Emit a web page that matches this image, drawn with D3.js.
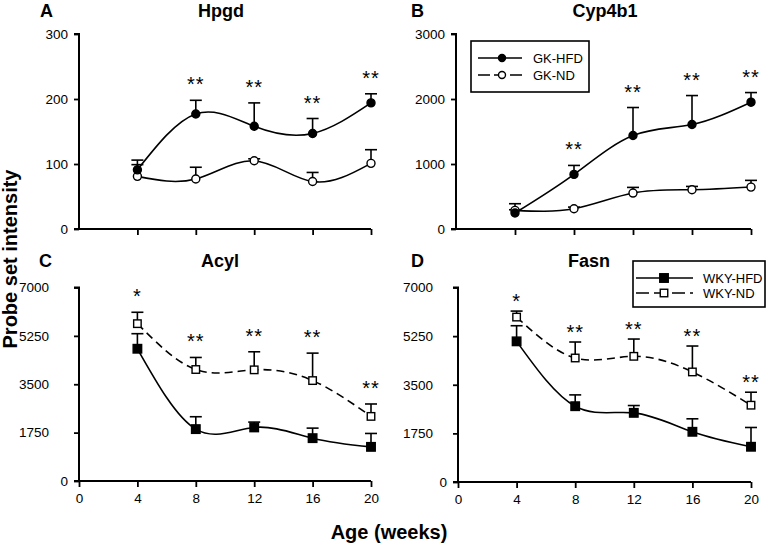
<!DOCTYPE html>
<html><head><meta charset="utf-8">
<script src="https://cdn.jsdelivr.net/npm/d3@7"></script>
<style>
body{margin:0;background:#fff;}
svg{display:block;}
text{font-family:"Liberation Sans",Arial,sans-serif;fill:#000;}
.tick text{font-family:"Liberation Sans Narrow","Arial Narrow","Liberation Sans",sans-serif;}
</style></head>
<body>
<svg id="c" width="768" height="546"></svg>
<script>
// ---- data ----
const weeks = [4, 8, 12, 16, 20];
const xTicks = [0, 4, 8, 12, 16, 20];

const hpgdHFD = [91, 177, 158, 147, 194];
const hpgdHFDErr = [15, 21, 36, 23, 14];
const hpgdND = [81, 77, 105, 73, 101];
const hpgdNDErr = [18, 18, 3, 14, 21];
const hpgdSig = ["", "**", "**", "**", "**"];
const hpgdYTicks = [0, 100, 200, 300];

const cypHFD = [246, 840, 1439, 1608, 1951];
const cypHFDErr = [50, 138, 430, 445, 148];
const cypND = [287, 312, 553, 604, 645];
const cypNDErr = [102, 25, 87, 51, 103];
const cypSig = ["", "**", "**", "**", "**"];
const cypYTicks = [0, 1000, 2000, 3000];

const acylHFD = [4784, 1877, 1938, 1550, 1235];
const acylHFDErr = [545, 448, 193, 363, 485];
const acylND = [5692, 4033, 4021, 3633, 2337];
const acylNDErr = [412, 436, 654, 993, 449];
const acylSig = ["*", "**", "**", "**", "**"];

const fasnHFD = [5062, 2728, 2489, 1807, 1268];
const fasnHFDErr = [562, 407, 263, 467, 694];
const fasnND = [5935, 4463, 4523, 3961, 2764];
const fasnNDErr = [216, 575, 622, 933, 467];
const fasnSig = ["*", "**", "**", "**", "**"];
const wideYTicks = [0, 1750, 3500, 5250, 7000];

const gkLegend = ["GK-HFD", "GK-ND"];
const wkyLegend = ["WKY-HFD", "WKY-ND"];

// ---- drawing ----
const svg = d3.select("#c");

function panel(o) {
  const x = d3.scaleLinear().domain([0, 20]).range(o.xr);
  const y = d3.scaleLinear().domain([0, o.yTicks[o.yTicks.length - 1]]).range(o.yr);
  const g = svg.append("g");

  // y axis
  const ya = g.append("g").attr("transform", `translate(${o.xr[0]},0)`)
    .call(d3.axisLeft(y).tickValues(o.yTicks).tickSize(5).tickPadding(6).tickFormat(d3.format("d")));
  ya.select(".domain").attr("stroke-width", 2).attr("d", `M-5,${o.yr[0]}H0V${o.yr[1]}H-5`);
  ya.selectAll(".tick line").attr("stroke-width", 1.8);
  ya.selectAll(".tick text").attr("font-size", 13.5)
    .attr("dx", d => d === 0 ? 0 : (o.labelShift || 0));

  // x axis
  const xa = g.append("g").attr("transform", `translate(0,${o.yr[0]})`)
    .call(d3.axisBottom(x).tickValues(o.showXLabels ? xTicks : weeks).tickSize(6).tickPadding(6)
      .tickFormat(o.showXLabels ? d3.format("d") : ""));
  xa.select(".domain").attr("stroke-width", 2).attr("d", `M${o.xr[0]},0H${o.xr[1]}`);
  xa.selectAll(".tick line").attr("stroke-width", 1.8);
  xa.selectAll(".tick text").attr("font-size", 13.5);

  const line = d3.line().x((d, i) => x(weeks[i])).y(d => y(d)).curve(d3.curveNatural);

  const series = [
    {v: o.nd, e: o.ndErr, filled: false, dash: o.ndDash},
    {v: o.hfd, e: o.hfdErr, filled: true, dash: null}
  ];
  series.forEach(s => {
    s.v.forEach((v, i) => {
      const cx = x(weeks[i]);
      g.append("line").attr("x1", cx).attr("x2", cx).attr("y1", y(v)).attr("y2", y(v + s.e[i]))
        .attr("stroke", "#000").attr("stroke-width", 1.6);
      g.append("line").attr("x1", cx - 6).attr("x2", cx + 6).attr("y1", y(v + s.e[i])).attr("y2", y(v + s.e[i]))
        .attr("stroke", "#000").attr("stroke-width", 1.6);
    });
  });
  series.forEach(s => {
    g.append("path").datum(s.v).attr("d", line).attr("fill", "none")
      .attr("stroke", "#000").attr("stroke-width", 1.6)
      .attr("stroke-dasharray", s.dash || null);
  });
  series.forEach(s => {
    s.v.forEach((v, i) => drawMarker(g, x(weeks[i]), y(v), o.shape, s.filled, 4));
  });

  o.sig.forEach((t, i) => {
    if (!t) return;
    const top = Math.max(o.hfd[i] + o.hfdErr[i], o.nd[i] + o.ndErr[i]);
    g.append("text").attr("x", x(weeks[i])).attr("y", y(top) - o.starGap + 11)
      .attr("text-anchor", "middle").attr("font-size", 20).attr("letter-spacing", 1).text(t);
  });

  g.append("text").attr("x", o.titleX).attr("y", o.titleY).attr("text-anchor", "middle")
    .attr("font-size", 18).attr("font-weight", "bold").text(o.title);
  g.append("text").attr("x", o.letterX).attr("y", o.titleY).attr("font-size", 18)
    .attr("font-weight", "bold").text(o.letter);
}

function drawMarker(g, cx, cy, shape, filled, r) {
  if (shape === "circle") {
    g.append("circle").attr("cx", cx).attr("cy", cy).attr("r", r)
      .attr("fill", filled ? "#000" : "#fff").attr("stroke", "#000").attr("stroke-width", 1.4);
  } else {
    const s = filled ? 8.5 : 7.5;
    g.append("rect").attr("x", cx - s / 2).attr("y", cy - s / 2).attr("width", s).attr("height", s)
      .attr("fill", filled ? "#000" : "#fff").attr("stroke", "#000").attr("stroke-width", 1.4);
  }
}

panel({title: "Hpgd", letter: "A", titleX: 221, titleY: 17, letterX: 40,
  xr: [79, 371], yr: [229, 34], yTicks: hpgdYTicks, showXLabels: false,
  hfd: hpgdHFD, hfdErr: hpgdHFDErr, nd: hpgdND, ndErr: hpgdNDErr, sig: hpgdSig,
  shape: "circle", ndDash: null, starGap: 20});
panel({title: "Cyp4b1", letter: "B", titleX: 605, titleY: 17, letterX: 411,
  xr: [456, 751], yr: [229, 34], yTicks: cypYTicks, showXLabels: false,
  hfd: cypHFD, hfdErr: cypHFDErr, nd: cypND, ndErr: cypNDErr, sig: cypSig,
  shape: "circle", ndDash: null, starGap: 20});
panel({title: "Acyl", letter: "C", titleX: 220, titleY: 267, letterX: 39,
  xr: [79, 371], yr: [481, 287.5], yTicks: wideYTicks, showXLabels: true, labelShift: -19,
  hfd: acylHFD, hfdErr: acylHFDErr, nd: acylND, ndErr: acylNDErr, sig: acylSig,
  shape: "square", ndDash: "8,5", starGap: 20});
panel({title: "Fasn", letter: "D", titleX: 589, titleY: 267, letterX: 411,
  xr: [458, 751], yr: [482, 287.5], yTicks: wideYTicks, showXLabels: true, labelShift: -14,
  hfd: fasnHFD, hfdErr: fasnHFDErr, nd: fasnND, ndErr: fasnNDErr, sig: fasnSig,
  shape: "square", ndDash: "8,5", starGap: 14});

function legend(o) {
  const g = svg.append("g");
  g.append("rect").attr("x", o.box[0]).attr("y", o.box[1]).attr("width", o.box[2]).attr("height", o.box[3])
    .attr("fill", "#fff").attr("stroke", "#000").attr("stroke-width", 1.6);
  o.labels.forEach((lab, i) => {
    const yy = o.rows[i];
    g.append("line").attr("x1", o.line[0]).attr("x2", o.line[1]).attr("y1", yy).attr("y2", yy)
      .attr("stroke", "#000").attr("stroke-width", 1.6).attr("stroke-dasharray", i === 1 ? o.dash : null);
    drawMarker(g, o.mark, yy, o.shape, i === 0, 3.5);
    g.append("text").attr("x", o.textX).attr("y", yy + 4.5).attr("font-size", 13).text(lab);
  });
}
legend({labels: gkLegend, box: [471, 41, 118, 51], rows: [58, 75], line: [478, 522], mark: 502,
  textX: 533, shape: "circle", dash: "12,4"});
legend({labels: wkyLegend, box: [633, 261, 132, 46], rows: [278, 293], line: [636, 693], mark: 664,
  textX: 703, shape: "square", dash: "13,5"});

svg.append("text").attr("x", 389).attr("y", 539).attr("text-anchor", "middle")
  .attr("font-size", 20).attr("font-weight", "bold").text("Age (weeks)");
svg.append("text").attr("transform", "translate(17,259) rotate(-90)").attr("text-anchor", "middle")
  .attr("font-size", 20).attr("font-weight", "bold").text("Probe set intensity");
</script>
</body></html>
